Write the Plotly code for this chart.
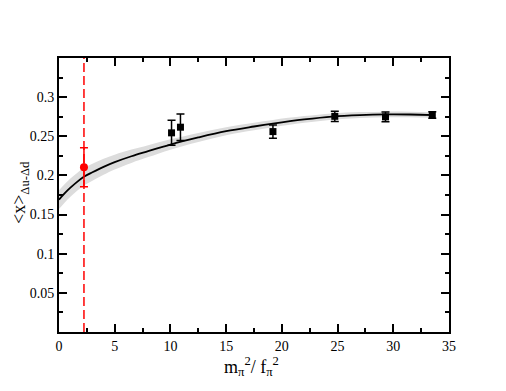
import plotly.graph_objects as go

# lattice points: m_pi^2/f_pi^2 vs <x>_{du-dd}
lat_x = [10.1, 10.9, 19.2, 24.75, 29.3, 33.5]
lat_y = [0.2544, 0.2616, 0.2560, 0.2755, 0.2748, 0.2772]
lat_err = [0.016, 0.017, 0.0085, 0.0065, 0.0062, 0.0043]

# physical point (extrapolated)
phys_x = [2.24]
phys_y = [0.2104]
phys_err = [0.025]

# fit curve and error band
fit_x = [0, 0.5, 1, 1.6, 2.27, 3, 4, 5, 6.5, 8, 10, 12.5, 15, 17.5, 19.2, 22, 24.5, 27, 29.4, 31.5, 33.7]
fit_y = [0.169, 0.177, 0.184, 0.1915, 0.1985, 0.204, 0.211, 0.217, 0.2245, 0.231, 0.2395, 0.2485, 0.2565, 0.2625, 0.2662, 0.2715, 0.2752, 0.2771, 0.2779, 0.2778, 0.2771]
fit_hw = [0.012, 0.0118, 0.0116, 0.0114, 0.0112, 0.0108, 0.0102, 0.0095, 0.0085, 0.0076, 0.0066, 0.0058, 0.0052, 0.0049, 0.0047, 0.0043, 0.004, 0.0038, 0.0036, 0.0035, 0.0035]

x_ticks = [0, 5, 10, 15, 20, 25, 30, 35]
y_ticks = [0.05, 0.1, 0.15, 0.2, 0.25, 0.3]

band_up = [y + h for y, h in zip(fit_y, fit_hw)]
band_lo = [y - h for y, h in zip(fit_y, fit_hw)]

SERIF = "Liberation Serif, Times New Roman, serif"

fig = go.Figure()

# grey error band
fig.add_trace(go.Scatter(x=fit_x, y=band_up, mode="lines", line=dict(width=0, shape="spline"),
                         hoverinfo="skip"))
fig.add_trace(go.Scatter(x=fit_x, y=band_lo, mode="lines", line=dict(width=0, shape="spline"),
                         fill="tonexty", fillcolor="#dcdcdc", hoverinfo="skip"))
# fit line
fig.add_trace(go.Scatter(x=fit_x, y=fit_y, mode="lines",
                         line=dict(color="black", width=1.8, shape="spline")))

# red dashed line at the physical point
fig.add_vline(x=phys_x[0], line=dict(color="#ff0000", width=1.5, dash="9px,4px"))

# lattice data
fig.add_trace(go.Scatter(x=lat_x, y=lat_y, mode="markers",
                         marker=dict(symbol="square", size=7, color="black"),
                         error_y=dict(type="data", array=lat_err, color="black", thickness=1.5, width=4)))
# physical point
fig.add_trace(go.Scatter(x=phys_x, y=phys_y, mode="markers",
                         marker=dict(symbol="circle", size=8, color="#ff0000"),
                         error_y=dict(type="data", array=phys_err, color="#ff0000", thickness=1.5, width=4)))

axis_common = dict(showline=True, linecolor="black", linewidth=2, mirror="ticks",
                   ticks="inside", ticklen=8, tickwidth=1.5, tickcolor="black",
                   showgrid=False, zeroline=False, automargin=False,
                   tickfont=dict(family=SERIF, size=14, color="black"))

fig.update_xaxes(range=[0, 35], tickvals=x_ticks,
                 minor=dict(dtick=2.5, tick0=0, ticks="inside", ticklen=4, tickwidth=1.5, tickcolor="black"),
                 **axis_common)
fig.update_yaxes(range=[0, 0.35], tickvals=y_ticks, ticktext=[str(v) for v in y_ticks],
                 minor=dict(dtick=0.025, tick0=0, ticks="inside", ticklen=4, tickwidth=1.5, tickcolor="black"),
                 **axis_common)

# axis titles as annotations so they sit where the original has them
fig.add_annotation(text="m<sub>π</sub><sup>2</sup>/ f<sub>π</sub><sup>2</sup>",
                   xref="paper", yref="paper", x=0.5, y=0, xanchor="center", yanchor="middle",
                   xshift=-3, yshift=-34, showarrow=False,
                   font=dict(family=SERIF, size=18, color="black"))
fig.add_annotation(text="&lt;x&gt;<sub>Δu-Δd</sub>", textangle=-90,
                   xref="paper", yref="paper", x=0, y=0.5, xanchor="center", yanchor="middle",
                   xshift=-39, yshift=2, showarrow=False,
                   font=dict(family=SERIF, size=18, color="black"))

fig.update_layout(width=506, height=391, showlegend=False,
                  font=dict(family=SERIF, color="black"),
                  margin=dict(l=51, r=65, t=50, b=67),
                  plot_bgcolor="white", paper_bgcolor="white")

fig.write_html("out.html")
